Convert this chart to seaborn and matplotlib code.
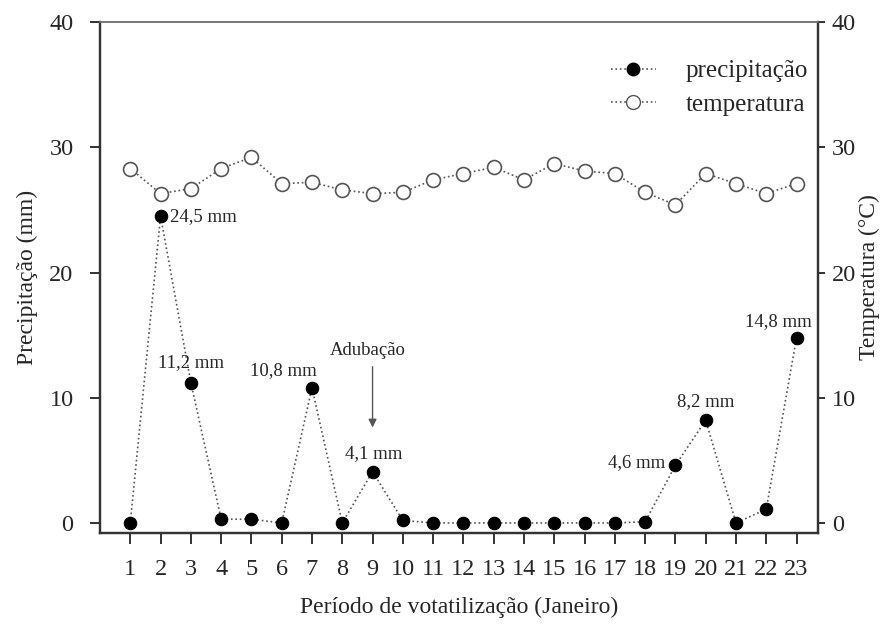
import matplotlib
matplotlib.use("Agg")
import matplotlib.pyplot as plt
import seaborn as sns
import pandas as pd
from matplotlib.lines import Line2D

days = list(range(1, 24))
precip = [0, 24.5, 11.2, 0.3, 0.3, 0, 10.8, 0, 4.1, 0.2, 0, 0, 0, 0, 0, 0, 0, 0.1, 4.6, 8.2, 0, 1.1, 14.8]
temp = [28.3, 26.3, 26.7, 28.3, 29.2, 27.1, 27.2, 26.6, 26.3, 26.4, 27.4, 27.9, 28.4, 27.4, 28.7,
        28.1, 27.9, 26.4, 25.4, 27.9, 27.1, 26.3, 27.1]
labels_txt = ["24,5 mm", "11,2 mm", "10,8 mm", "4,1 mm", "4,6 mm", "8,2 mm", "14,8 mm"]

sns.set_theme(style="white")
plt.rcParams['font.family'] = ['Liberation Serif', 'DejaVu Serif']

df = pd.DataFrame({"dia": days, "precip": precip, "temp": temp})

fig = plt.figure(figsize=(8.85, 6.3), dpi=100)
ax = fig.add_axes([0.113, 0.154, 0.811, 0.811])
ax2 = ax.twinx()

line_col = "#555555"
sns.lineplot(data=df, x="dia", y="precip", ax=ax, color=line_col, linestyle=":", linewidth=1.2,
             marker="o", markersize=9, markerfacecolor="black", markeredgecolor="black", zorder=3)
sns.lineplot(data=df, x="dia", y="temp", ax=ax2, color=line_col, linestyle=":", linewidth=1.2,
             marker="o", markersize=10, markerfacecolor="white", markeredgecolor="#555555",
             markeredgewidth=1.2, zorder=3)

for a in (ax, ax2):
    a.set_xlim(0.0, 23.7)
    a.set_ylim(-0.8, 40)
    a.set_yticks([0, 10, 20, 30, 40])
    for s in a.spines.values():
        s.set_color("#333333")
        s.set_linewidth(1.6)
    a.spines["top"].set_color("#777777")
    a.spines["top"].set_linewidth(1.2)

ax.set_xticks(days)
ax.tick_params(axis="x", direction="out", length=8, width=1.4, color="#333333", pad=11, labelsize=17.5)
ax.tick_params(axis="y", direction="out", length=7, width=1.4, color="#333333", pad=12, labelsize=17.5,
               left=True)
ax.tick_params(axis="x", bottom=True)
ax2.tick_params(axis="y", direction="out", length=5, width=1.4, color="#333333", pad=5, labelsize=17.5,
                right=True)

ax.set_xlabel("Período de votatilização (Janeiro)", fontsize=17, labelpad=12)
ax.set_ylabel("Precipitação (mm)", fontsize=17, labelpad=8)
ax2.set_ylabel("Temperatura (°C)", fontsize=17, labelpad=2)

fs = 13.5
ax.text(2.3, 24.5, labels_txt[0], ha="left", va="center", fontsize=fs)
ax.text(3.0, 12.8, labels_txt[1], ha="center", va="center", fontsize=fs)
ax.text(7.15, 12.2, labels_txt[2], ha="right", va="center", fontsize=fs)
ax.text(9.05, 5.5, labels_txt[3], ha="center", va="center", fontsize=fs)
ax.text(18.65, 4.8, labels_txt[4], ha="right", va="center", fontsize=fs)
ax.text(20.0, 9.7, labels_txt[5], ha="center", va="center", fontsize=fs)
ax.text(22.4, 16.1, labels_txt[6], ha="center", va="center", fontsize=fs)
ax.text(8.85, 13.8, "Adubação", ha="center", va="center", fontsize=fs)
ax.annotate("", xy=(9.0, 7.4), xytext=(9.0, 12.7),
            arrowprops=dict(arrowstyle="-|>", color="#555555", lw=1.0, mutation_scale=12))

handles = [
    Line2D([], [], color=line_col, linestyle=":", linewidth=1.2, marker="o", markersize=9,
           markerfacecolor="black", markeredgecolor="black"),
    Line2D([], [], color=line_col, linestyle=":", linewidth=1.2, marker="o", markersize=10,
           markerfacecolor="white", markeredgecolor="#555555"),
]
ax2.legend(handles, ["precipitação", "temperatura"], loc="upper right", frameon=False,
           fontsize=18, bbox_to_anchor=(1.018, 0.97), handlelength=1.8, handletextpad=1.2,
           labelspacing=0.45)
if ax.get_legend():
    ax.get_legend().remove()

fig.savefig("out.png", dpi=100)
